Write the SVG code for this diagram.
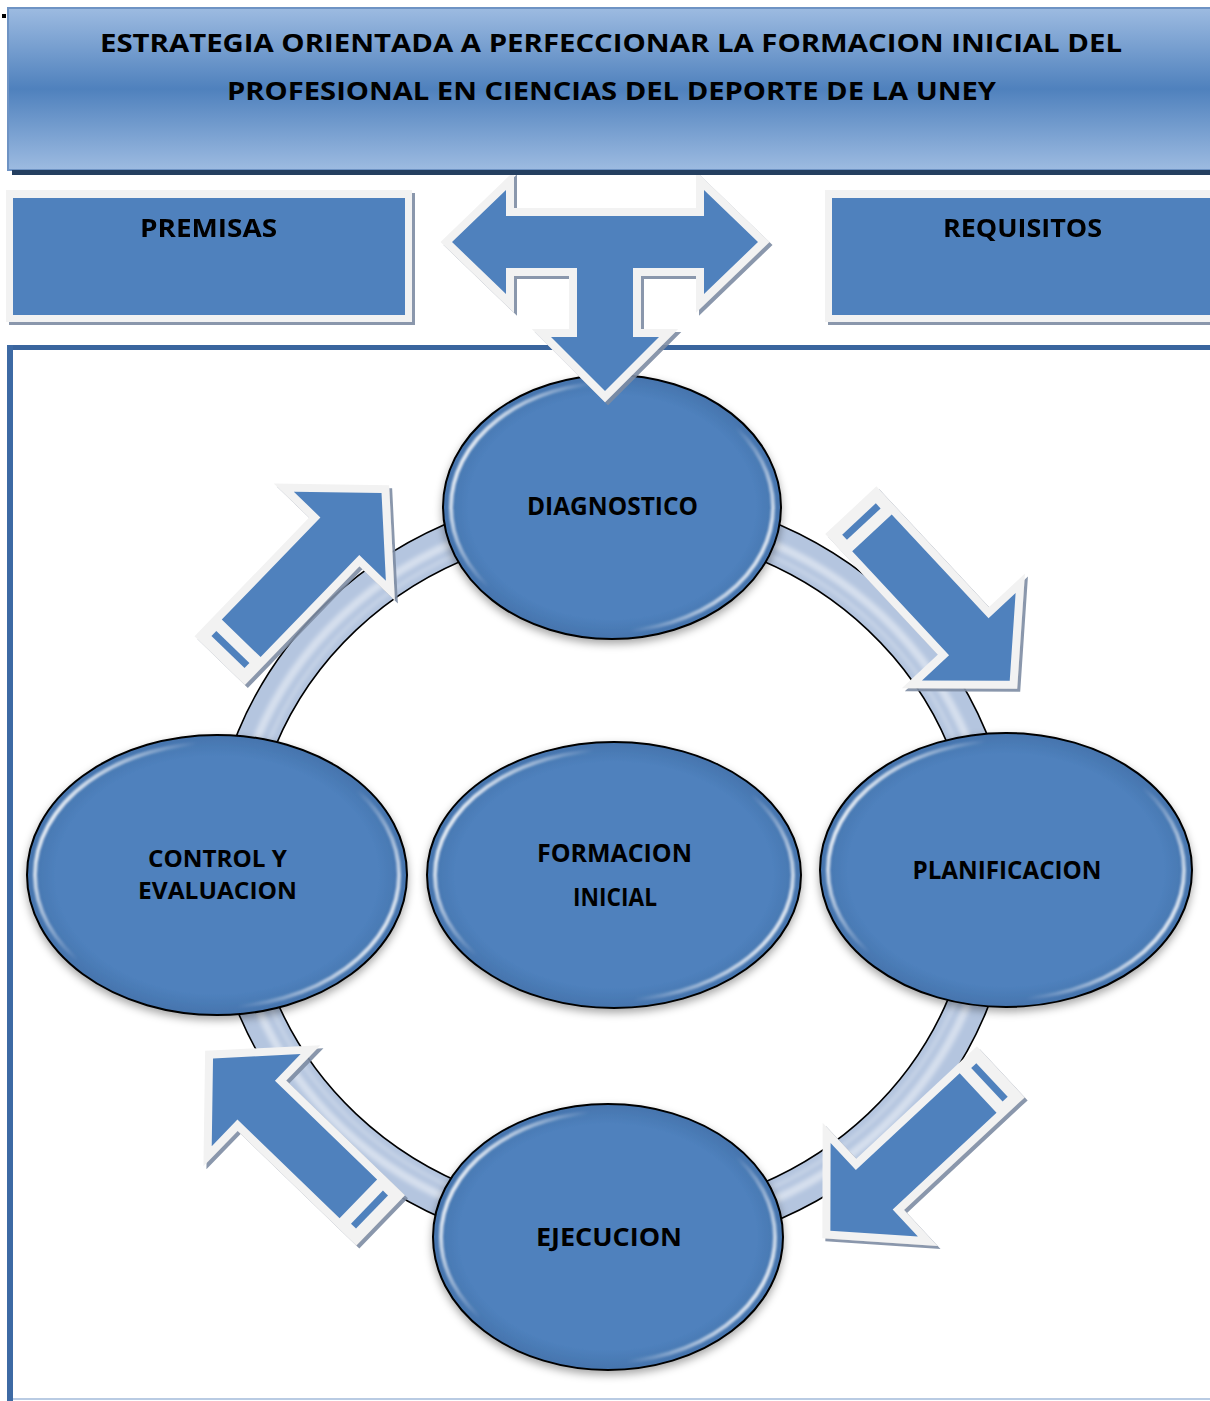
<svg xmlns="http://www.w3.org/2000/svg" width="1210" height="1401" viewBox="0 0 1210 1401">
<defs>
<style>
.t{font-family:"Open Sans","Liberation Sans",Arial,sans-serif;font-weight:700;font-size:25px;fill:#000;text-anchor:middle}
.s{font-size:23px}
.blue{fill:#4f81bd}
.lg{fill:#f2f2f2;stroke:#f2f2f2;stroke-width:16;stroke-linejoin:miter;stroke-miterlimit:10}
.node{fill:url(#nodeFill);stroke:#000;stroke-width:2}
.bev{fill:none;stroke:url(#bevel);stroke-width:4;filter:url(#soft)}
.edge{fill:none;stroke:#000;stroke-width:1.6}
</style>
<linearGradient id="titleG" x1="0" y1="0" x2="0" y2="1">
<stop offset="0" stop-color="#9dbbe1"/>
<stop offset="0.5" stop-color="#4f81bd"/>
<stop offset="1" stop-color="#9dbbe1"/>
</linearGradient>
<radialGradient id="nodeFill" cx="0.5" cy="0.5" r="0.5">
<stop offset="0.85" stop-color="#4f81bd"/>
<stop offset="1" stop-color="#4574ad"/>
</radialGradient>
<linearGradient id="bevel" x1="0" y1="0.3" x2="1" y2="0.7">
<stop offset="0" stop-color="#fff" stop-opacity="0.95"/>
<stop offset="0.28" stop-color="#fff" stop-opacity="0"/>
<stop offset="0.72" stop-color="#fff" stop-opacity="0"/>
<stop offset="1" stop-color="#fff" stop-opacity="0.9"/>
</linearGradient>
<filter id="soft" x="-5%" y="-5%" width="110%" height="110%"><feGaussianBlur stdDeviation="1.2"/></filter>
<filter id="nsh" x="-10%" y="-10%" width="120%" height="125%"><feDropShadow dx="0" dy="4" stdDeviation="4" flood-color="#000" flood-opacity="0.35"/></filter>
<filter id="hsh" x="-10%" y="-10%" width="120%" height="120%"><feDropShadow dx="3" dy="3" stdDeviation="0.6" flood-color="#7d8ca3" flood-opacity="0.9"/></filter>
<filter id="rb" x="-5%" y="-5%" width="110%" height="110%"><feGaussianBlur stdDeviation="2"/></filter>
<g id="darrow">
<polygon class="lg" points="-4,-27 161,-27 161,-64 221,0 161,64 161,27 -4,27"/>
<rect class="blue" x="0" y="-23" width="7" height="46"/>
<polygon class="blue" points="19,-27 161,-27 161,-64 221,0 161,64 161,27 19,27"/>
</g>
</defs>
<rect width="1210" height="1401" fill="#fff"/>

<g id="premisas" filter="url(#hsh)">
<rect x="6" y="190" width="406" height="132" fill="#f2f2f2"/>
<rect x="13" y="198" width="392" height="117" class="blue"/>
<text class="t" x="208.5" y="237" textLength="137" lengthAdjust="spacingAndGlyphs">PREMISAS</text>
</g>
<g id="requisitos" filter="url(#hsh)">
<rect x="825" y="190" width="400" height="132" fill="#f2f2f2"/>
<rect x="832" y="198" width="390" height="117" class="blue"/>
<text class="t" x="1022.5" y="237" textLength="159" lengthAdjust="spacingAndGlyphs">REQUISITOS</text>
</g>

<g id="frame">
<rect x="7" y="345" width="1210" height="5" fill="#3a659e"/>
<rect x="7" y="345" width="6" height="1060" fill="#3d6aa4"/>
<rect x="13" y="1398" width="1200" height="2" fill="#b9cbe3"/>
</g>

<g id="connectors">
<g id="ring">
<ellipse cx="612" cy="872" rx="382" ry="362" fill="none" stroke="#b4c5df" stroke-width="40"/>
<ellipse cx="612" cy="872" rx="382" ry="362" fill="none" stroke="#fff" stroke-opacity="0.45" stroke-width="8" filter="url(#rb)"/>
<ellipse cx="612" cy="872" rx="370" ry="350" fill="none" stroke="#fff" stroke-opacity="0.35" stroke-width="3" filter="url(#rb)"/>
<ellipse class="edge" cx="612" cy="872" rx="402" ry="382"/>
<ellipse class="edge" cx="612" cy="872" rx="362" ry="342"/>
</g>
<g filter="url(#hsh)"><use href="#darrow" transform="translate(228,652) rotate(-46)"/></g>
<g filter="url(#hsh)"><use href="#darrow" transform="translate(859,519) rotate(47)"/></g>
<g filter="url(#hsh)"><use href="#darrow" transform="translate(992,1080) rotate(137)"/></g>
<g filter="url(#hsh)"><use href="#darrow" transform="translate(372,1212) rotate(224)"/></g>
</g>

<g id="diagnostico">
<ellipse class="node" cx="612" cy="507" rx="169" ry="132" filter="url(#nsh)"/>
<ellipse class="bev" cx="612" cy="507" rx="161" ry="124"/>
<text class="t" x="612.5" y="515" textLength="171" lengthAdjust="spacingAndGlyphs">DIAGNOSTICO</text>
</g>
<g id="control">
<ellipse class="node" cx="217" cy="875" rx="190" ry="140" filter="url(#nsh)"/>
<ellipse class="bev" cx="217" cy="875" rx="182" ry="132"/>
<text class="t s" x="217.5" y="867" textLength="139" lengthAdjust="spacingAndGlyphs">CONTROL Y</text>
<text class="t s" x="217.5" y="899" textLength="159" lengthAdjust="spacingAndGlyphs">EVALUACION</text>
</g>
<g id="formacion">
<ellipse class="node" cx="614" cy="875" rx="187" ry="133" filter="url(#nsh)"/>
<ellipse class="bev" cx="614" cy="875" rx="179" ry="125"/>
<text class="t" x="614.5" y="862" textLength="155" lengthAdjust="spacingAndGlyphs">FORMACION</text>
<text class="t" x="615" y="906" textLength="84" lengthAdjust="spacingAndGlyphs">INICIAL</text>
</g>
<g id="planificacion">
<ellipse class="node" cx="1006" cy="870" rx="186" ry="137" filter="url(#nsh)"/>
<ellipse class="bev" cx="1006" cy="870" rx="178" ry="129"/>
<text class="t" x="1007" y="879" textLength="189" lengthAdjust="spacingAndGlyphs">PLANIFICACION</text>
</g>
<g id="ejecucion">
<ellipse class="node" cx="608" cy="1237" rx="175" ry="133" filter="url(#nsh)"/>
<ellipse class="bev" cx="608" cy="1237" rx="167" ry="125"/>
<text class="t" x="609" y="1246" textLength="146" lengthAdjust="spacingAndGlyphs">EJECUCION</text>
</g>

<g id="t-arrow" filter="url(#hsh)">
<polygon class="lg" points="452,242 506,190 506,216 704,216 704,190 758,242 704,294 704,268 633,268 633,337 659,337 605,391 551,337 577,337 577,268 506,268 506,294"/>
<polygon class="blue" points="452,242 506,190 506,216 704,216 704,190 758,242 704,294 704,268 633,268 633,337 659,337 605,391 551,337 577,337 577,268 506,268 506,294"/>
</g>

<g id="title">
<rect x="8" y="8" width="1210" height="162" fill="url(#titleG)" stroke="#6e93c4" stroke-width="2"/>
<rect x="12" y="170" width="1200" height="5" fill="#243f60"/>
<rect x="2" y="14" width="4" height="4" fill="#000"/>
<text class="t" x="611" y="51.5" textLength="1022" lengthAdjust="spacingAndGlyphs">ESTRATEGIA ORIENTADA A PERFECCIONAR LA FORMACION INICIAL DEL</text>
<text class="t" x="611.5" y="99.5" textLength="769" lengthAdjust="spacingAndGlyphs">PROFESIONAL EN CIENCIAS DEL DEPORTE DE LA UNEY</text>
</g>
</svg>
